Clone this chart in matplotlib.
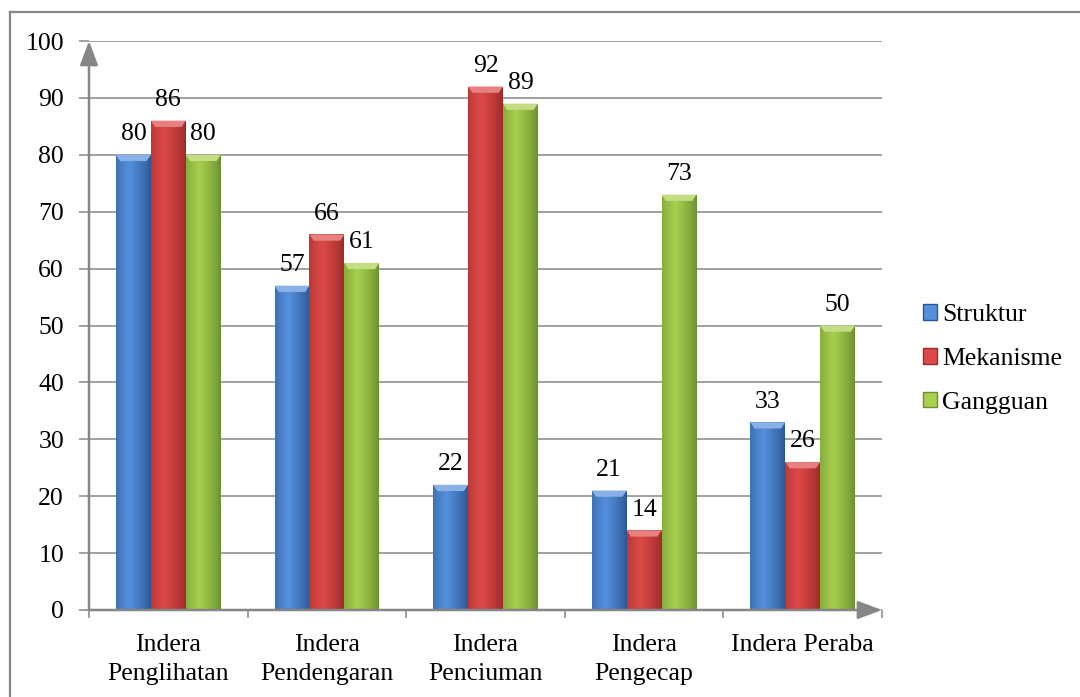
import matplotlib.pyplot as plt
import numpy as np
from matplotlib.lines import Line2D
from matplotlib.patches import Polygon, Rectangle
from matplotlib.colors import to_rgb

plt.rcParams['font.family'] = 'serif'
plt.rcParams['font.serif'] = ['Liberation Serif', 'DejaVu Serif']
plt.rcParams['font.size'] = 18.5

categories = ['Indera\nPenglihatan', 'Indera\nPendengaran', 'Indera\nPenciuman',
              'Indera\nPengecap', 'Indera Peraba']
series_names = ['Struktur', 'Mekanisme', 'Gangguan']
struktur = [80, 57, 22, 21, 33]
mekanisme = [86, 66, 92, 14, 26]
gangguan = [80, 61, 89, 73, 50]
y_ticks = [0, 10, 20, 30, 40, 50, 60, 70, 80, 90, 100]

# (dark edge, light centre)
COLORS = [('#2a5794', '#5690dc'),
          ('#9c2a28', '#dc4a48'),
          ('#6b9030', '#a8cf4e')]
GRAY = '#868686'
BAR_W = 0.22


def gradient_image(dark, light, n=64):
    x = np.linspace(0, 1, n)
    # light near 35% of width, darker at both sides
    t = np.clip(1 - np.abs(x - 0.38) / 0.62, 0, 1) ** 0.8
    d = np.array(to_rgb(dark))
    l = np.array(to_rgb(light))
    img = d[None, :] + (l - d)[None, :] * t[:, None]
    return img[None, :, :]


def shade_bar(ax, rect, dark, light):
    x0 = rect.get_x()
    w = rect.get_width()
    h = rect.get_height()
    im = ax.imshow(gradient_image(dark, light), extent=[x0, x0 + w, 0, h],
                   aspect='auto', zorder=3, interpolation='bilinear')
    im.set_clip_path(rect)
    # bevelled top
    b = min(1.1, h * 0.5)
    s = w * 0.12
    lt = np.array(to_rgb(light))
    top = np.clip(lt + (1 - lt) * 0.3, 0, 1)
    ax.add_patch(Polygon([(x0, h), (x0 + w, h), (x0 + w - s, h - b), (x0 + s, h - b)],
                         closed=True, facecolor=top, edgecolor='none', zorder=4))


fig = plt.figure(figsize=(10.8, 6.97), dpi=100)
ax = fig.add_axes([89 / 1080, 87 / 697, 793 / 1080, 569 / 697])

x = np.arange(len(categories))
all_series = [struktur, mekanisme, gangguan]
for i, (name, vals) in enumerate(zip(series_names, all_series)):
    bars = ax.bar(x + (i - 1) * BAR_W, vals, BAR_W, color=COLORS[i][0],
                  edgecolor='none', zorder=2, label=name)
    for rect in bars:
        shade_bar(ax, rect, *COLORS[i])
    for xi, v in zip(x + (i - 1) * BAR_W, vals):
        ax.annotate(str(v), (xi, v), xytext=(0, 7), textcoords='offset points',
                    ha='center', va='bottom', zorder=6)

ax.set_xlim(-0.5, len(categories) - 0.5)
ax.set_ylim(0, 100)
ax.set_yticks(y_ticks)
ax.yaxis.grid(True, color=GRAY, linewidth=1.1, zorder=0)
ax.set_axisbelow(True)

ax.set_xticks(np.arange(len(categories) + 1) - 0.5)
ax.set_xticklabels([])
ax.set_xticks(x, minor=True)
ax.set_xticklabels(categories, minor=True, linespacing=1.42)
ax.tick_params(axis='x', which='minor', length=0, pad=17)
ax.tick_params(axis='x', which='major', length=6, color=GRAY, width=1.1)
ax.tick_params(axis='y', length=7, color=GRAY, width=1.1, pad=11)

for sp in ax.spines.values():
    sp.set_visible(False)

# axes with arrow heads
arrow = dict(arrowstyle='-|>,head_length=0.8,head_width=0.3', color=GRAY,
             linewidth=1.8, shrinkA=0, shrinkB=0)
ax.annotate('', xy=(0, 1), xytext=(0, 0), xycoords='axes fraction',
            arrowprops=arrow, annotation_clip=False, zorder=7)
ax.annotate('', xy=(1, 0), xytext=(0, 0), xycoords='axes fraction',
            arrowprops=arrow, annotation_clip=False, zorder=7)

handles = [Rectangle((0, 0), 1, 1, facecolor=c[1], edgecolor=c[0], linewidth=1)
           for c in COLORS]
fig.legend(handles, series_names, loc='center left', bbox_to_anchor=(0.845, 0.485),
           frameon=False, handlelength=0.55, handleheight=0.55, handletextpad=0.2,
           labelspacing=0.85, borderaxespad=0)

# chart frame (right and bottom edges fall outside the picture)
fig.add_artist(Line2D([9.5 / 1080, 1.0], [1 - 11.5 / 697] * 2, color=GRAY, linewidth=1.6))
fig.add_artist(Line2D([9.5 / 1080] * 2, [0.0, 1 - 11.5 / 697], color=GRAY, linewidth=1.6))

fig.savefig('out.png', dpi=100)
